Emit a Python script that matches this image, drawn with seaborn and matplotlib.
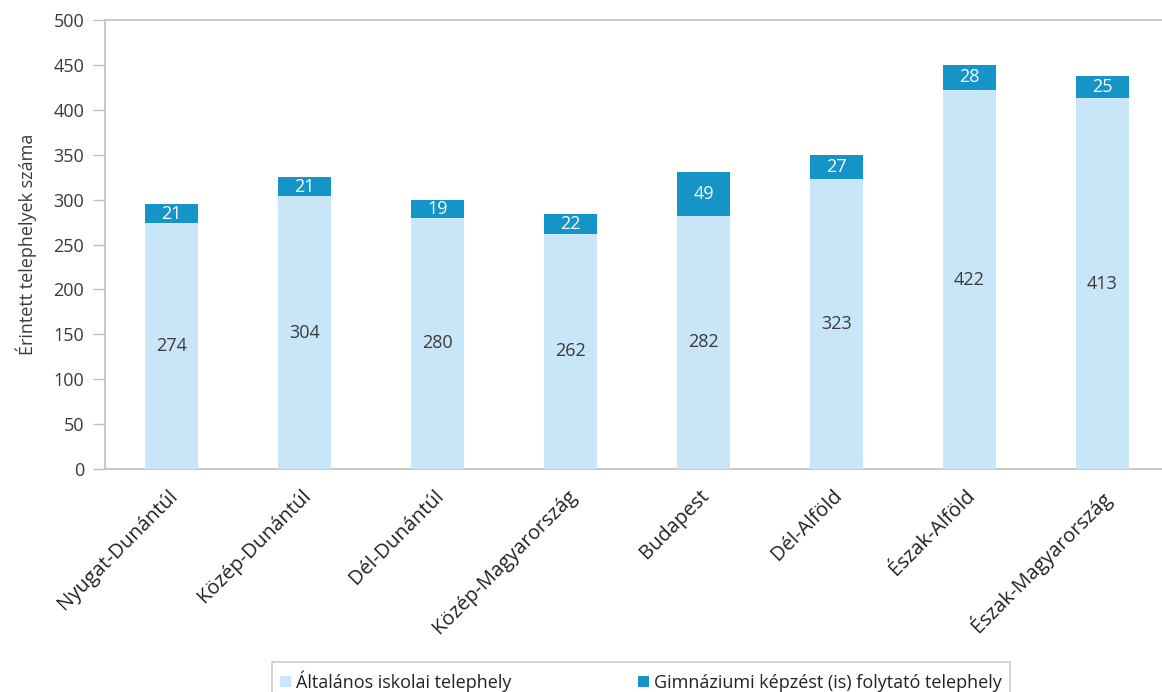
import matplotlib
matplotlib.use("Agg")
import matplotlib.pyplot as plt
import matplotlib.transforms as mtrans
import seaborn as sns
import pandas as pd
from matplotlib.patches import Patch

regions = ["Nyugat-Dunántúl", "Közép-Dunántúl", "Dél-Dunántúl", "Közép-Magyarország",
           "Budapest", "Dél-Alföld", "Észak-Alföld", "Észak-Magyarország"]
altalanos = [274, 304, 280, 262, 282, 323, 422, 413]
gimnazium = [21, 21, 19, 22, 49, 27, 28, 25]
yticks = [0, 50, 100, 150, 200, 250, 300, 350, 400, 450, 500]
series_names = ["Általános iskolai telephely", "Gimnáziumi képzést (is) folytató telephely"]
ylabel = "Érintett telephelyek száma"

light = "#C8E6F8"
dark = "#1594C8"
gray = "#BFBFBF"
textc = "#3A3A3A"

sns.set_theme(style="white")
plt.rcParams["font.family"] = ["Open Sans", "DejaVu Sans"]

df = pd.DataFrame({"region": regions, "base": altalanos, "top": gimnazium})
df["total"] = df["base"] + df["top"]

fig = plt.figure(figsize=(11.62, 6.92), dpi=100)
ax = fig.add_axes([105/1162, 1-469/692, 8*133/1162, (469-20)/692])

sns.barplot(data=df, x="region", y="total", color=dark, width=0.4, saturation=1, ax=ax,
            zorder=2, linewidth=0, edgecolor="none")
sns.barplot(data=df, x="region", y="base", color=light, width=0.4, saturation=1, ax=ax,
            zorder=3, linewidth=0, edgecolor="none")

for i, (b, t) in enumerate(zip(altalanos, gimnazium)):
    ax.text(i, b/2, str(b), ha="center", va="center", fontsize=13, color=textc, zorder=5)
    ax.text(i, b + t/2, str(t), ha="center", va="center", fontsize=13, color="white", zorder=5)

ax.set_ylim(0, 500)
ax.set_xlim(-0.5, 7.5)
ax.set_yticks(yticks)
ax.set_yticklabels([str(v) for v in yticks], fontsize=13, color=textc)
ax.set_xlabel("")
ax.set_ylabel(ylabel, fontsize=13, color=textc, labelpad=12)
ax.tick_params(axis="y", which="both", left=True, length=9, width=1, color=gray, pad=6)
ax.tick_params(axis="x", bottom=False, pad=6)
ax.set_xticks(range(len(regions)))
ax.set_xticklabels(regions, rotation=45, ha="right", rotation_mode="anchor", fontsize=14.5, color="#222222")
offset = mtrans.ScaledTranslation(-4/100, 0, fig.dpi_scale_trans)
for lbl in ax.get_xticklabels():
    lbl.set_transform(lbl.get_transform() + offset)

ax.spines["right"].set_visible(False)
for s in ["left", "bottom", "top"]:
    ax.spines[s].set_color(gray)
    ax.spines[s].set_linewidth(1.2)

handles = [Patch(facecolor=light, edgecolor="none"), Patch(facecolor=dark, edgecolor="none")]
leg = fig.legend(handles, series_names, loc="upper left", bbox_to_anchor=(272/1162, 1-662/692),
                 ncol=2, frameon=True, fancybox=False, fontsize=13, columnspacing=7.0,
                 handlelength=0.6, handleheight=0.6, handletextpad=0.3, borderpad=0.45,
                 borderaxespad=0)
leg.get_frame().set_edgecolor(gray)
leg.get_frame().set_linewidth(1.2)
for t in leg.get_texts():
    t.set_color("#222222")

fig.savefig("out.png", dpi=100)
